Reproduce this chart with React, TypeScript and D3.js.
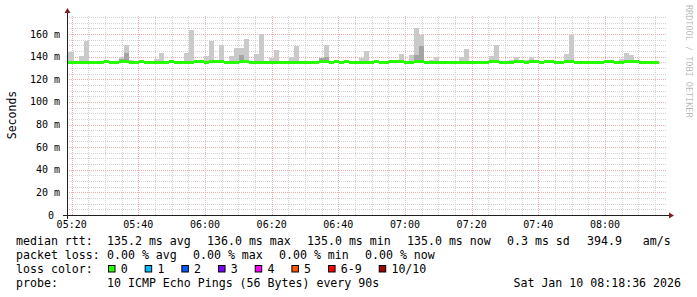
import React from "react";
import * as d3 from "d3";

// ---- data -------------------------------------------------------------
const START = new Date(2026, 0, 10, 5, 18, 36);
const END = new Date(2026, 0, 10, 8, 18, 36);
const FIRST_STEP = new Date(2026, 0, 10, 5, 17, 42);
const STEP_SECONDS = 90;

// median rtt per 90 s step (ms)
const medianRtt: number[] = [
  135.2, 135.2, 135.2, 135.2, 135.2, 135.2, 135.2, 135.2, 135.9, 135.0,
  135.0, 135.9, 136.0, 135.0, 135.2, 135.9, 135.2, 135.2, 135.2, 135.2,
  135.2, 135.9, 135.0, 135.0, 135.2, 135.2, 135.9, 135.9, 135.2, 135.9,
  135.9, 135.9, 135.0, 135.0, 135.2, 135.9, 135.9, 135.2, 135.2, 135.2,
  135.2, 135.2, 135.2, 135.2, 135.2, 135.2, 135.2, 135.2, 135.2, 135.2,
  135.2, 135.9, 135.9, 135.2, 135.9, 135.2, 135.9, 135.0, 135.0, 135.0,
  135.0, 135.0, 135.9, 135.0, 135.0, 135.9, 135.9, 135.9, 135.2, 135.2,
  135.9, 135.9, 135.2, 135.2, 135.2, 135.2, 135.2, 135.2, 135.2, 135.2,
  135.2, 135.2, 135.2, 135.2, 135.2, 135.9, 135.9, 135.0, 135.0, 135.2,
  135.9, 135.9, 135.2, 135.9, 135.9, 135.2, 135.9, 135.9, 135.0, 135.0,
  135.9, 135.9, 135.2, 135.2, 135.2, 135.2, 135.2, 135.2, 135.9, 135.9,
  135.0, 135.2, 135.9, 135.9, 135.9, 135.0, 135.0, 135.0, 135.0,
];

// highest ping per step (outer smoke top, ms)
const maxRtt: number[] = [
  144, 144, 136, 140.6, 153.8, 136, 136, 136, 136, 136,
  136, 139.5, 150, 137, 136, 136, 136, 136, 138, 143,
  136, 136, 136, 136, 143, 163.5, 136, 136, 140.6, 154,
  136, 150, 136, 140.6, 147.6, 147.6, 155.6, 136, 142, 160,
  136, 139, 146, 136, 136, 140, 149.5, 136, 136, 136,
  136, 139, 150, 136, 136, 136, 136, 136, 136, 139,
  145, 136, 136, 136, 136, 136, 136, 142, 136, 141.5,
  165, 159, 136, 137, 139.7, 136, 136, 136, 136, 139.7,
  147, 136, 136, 136, 136, 140.6, 150, 136, 136, 137,
  139.5, 136, 137, 139.5, 136, 136, 136, 136, 136, 136,
  142, 159, 136, 136, 136, 136, 136, 136, 136, 136,
  136, 138, 143, 141.5, 137, 136, 136, 136, 136,
];

// second highest ping per step (inner, darker smoke top), null = hidden
const innerRtt: (number | null)[] = [
  null, null, null, null, null, null, null, null, null, null,
  null, 137.5, 143, null, null, null, null, null, null, null,
  null, null, null, null, null, null, null, null, null, null,
  null, null, null, null, null, 141, null, null, null, null,
  null, null, null, null, null, null, null, null, null, null,
  null, 138.5, 140, null, null, null, null, null, null, null,
  null, null, null, null, null, null, null, null, null, null,
  141, 149.5, null, null, null, null, null, null, null, null,
  null, null, null, null, null, null, null, null, null, null,
  null, null, null, null, null, null, null, null, null, null,
  null, null, null, null, null, null, null, null, null, null,
  null, null, null, null, null, null, null, null, null,
];

const yTicks = [0, 20, 40, 60, 80, 100, 120, 140, 160];
const rttLegend = ["135.2 ms avg", "136.0 ms max", "135.0 ms min", "135.0 ms now", "0.3 ms sd", "394.9   am/s"];
const lossLegend = ["0.00 % avg", "0.00 % max", "0.00 % min", "0.00 % now"];
const lossLabels = ["0", "1", "2", "3", "4", "5", "6-9", "10/10"];
const lossColors = ["#26ff00", "#00b8ff", "#0059ff", "#7e00ff", "#ff00ff", "#ff5500", "#ff0000", "#a00000"];
const probeText = "10 ICMP Echo Pings (56 Bytes) every 90s";
const stampText = "Sat Jan 10 08:18:36 2026";

// ---- layout -----------------------------------------------------------
const W = 697;
const H = 297;
const X0 = 67;
const XS = 600;
const Y0 = 215;
const YS = 200;
const YMAX = 176.8;
const MONO = "'DejaVu Sans Mono', monospace";
const CH = 6.98; // legend char advance

export default function App() {
  const x = d3.scaleTime().domain([START, END]).range([X0, X0 + XS]);
  const y = d3.scaleLinear().domain([0, YMAX]).range([Y0, Y0 - YS]);

  const minorX = d3.timeMinute.every(5)!.range(START, END);
  const majorX = d3.timeMinute.every(20)!.range(START, END);
  const minorY = d3.range(0, YMAX, 5);
  const fmt = d3.timeFormat("%H:%M");

  const steps = medianRtt.map((m, i) => {
    const t0 = new Date(FIRST_STEP.getTime() + i * STEP_SECONDS * 1000);
    const t1 = new Date(t0.getTime() + STEP_SECONDS * 1000);
    const xa = Math.max(x(t0), X0);
    const xb = Math.min(x(t1), X0 + XS);
    return { i, m, xa, xb, max: maxRtt[i], inner: innerRtt[i] };
  });

  const px = (v: number) => Math.round(v) + 0.5;

  const rttX = [107, 207, 307, 407, 507, 587];
  const lossX = [107, 193, 279, 365];

  let bx = 108.5;
  const boxes = lossLabels.map((lab, i) => {
    const b = { lab, color: lossColors[i], x: bx };
    bx = bx + 12.5 + lab.length * CH + 17.2;
    return b;
  });

  return (
    <svg
      width={W}
      height={H}
      style={{ position: "absolute", left: 0, top: 0, background: "#fff" }}
      xmlns="http://www.w3.org/2000/svg"
    >
      <rect x={0} y={0} width={W} height={H} fill="#ffffff" />
      {/* minor grid */}
      <g stroke="#d2d2d2" strokeWidth={1} strokeDasharray="1,1">
        {minorY.map((v) => (
          <line key={"hy" + v} x1={X0} x2={X0 + XS} y1={px(y(v))} y2={px(y(v))} />
        ))}
        {minorX.map((t) => (
          <line key={"vx" + t.getTime()} x1={px(x(t))} x2={px(x(t))} y1={Y0} y2={Y0 - YS} />
        ))}
      </g>
      {/* major grid */}
      <g stroke="#efb0b0" strokeWidth={1} strokeDasharray="1,1">
        {yTicks.map((v) => (
          <line key={"my" + v} x1={X0} x2={X0 + XS} y1={px(y(v))} y2={px(y(v))} />
        ))}
        {majorX.map((t) => (
          <line key={"mx" + t.getTime()} x1={px(x(t))} x2={px(x(t))} y1={Y0} y2={Y0 - YS} />
        ))}
      </g>

      {/* smoke */}
      <g shapeRendering="crispEdges">
        {steps.map((s) => (
          <rect key={"s" + s.i} x={s.xa} width={s.xb - s.xa} y={y(s.max)} height={y(s.m) - y(s.max)} fill="#cacaca" />
        ))}
        {steps
          .filter((s) => s.inner !== null)
          .map((s) => (
            <rect key={"d" + s.i} x={s.xa} width={s.xb - s.xa} y={y(s.inner as number)} height={y(s.m) - y(s.inner as number)} fill="#a4a4a4" />
          ))}
        {/* median */}
        {steps.map((s) => (
          <rect key={"m" + s.i} x={s.xa} width={s.xb - s.xa} y={y(s.m) - 1.5} height={3} fill={lossColors[0]} />
        ))}
      </g>

      {/* axes */}
      <line x1={X0 - 4} x2={X0 + XS + 4} y1={Y0 + 0.5} y2={Y0 + 0.5} stroke="#1f1f1f" strokeWidth={1} />
      <line x1={X0 + 0.5} x2={X0 + 0.5} y1={Y0 + 4} y2={Y0 - YS - 4} stroke="#1f1f1f" strokeWidth={1} />
      <polygon
        points={`${X0 + XS + 2},${Y0 - 3 + 0.5} ${X0 + XS + 2},${Y0 + 3 + 0.5} ${X0 + XS + 7},${Y0 + 0.5}`}
        fill="#801f1f"
      />
      <polygon
        points={`${X0 - 3 + 0.5},${Y0 - YS - 2} ${X0 + 3 + 0.5},${Y0 - YS - 2} ${X0 + 0.5},${Y0 - YS - 7}`}
        fill="#801f1f"
      />

      {/* tick labels */}
      <g fontFamily={MONO} fontSize={10} fill="#000">
        {yTicks.map((v) => (
          <text key={"yl" + v} x={v === 0 ? 54 : 60} y={y(v) + 3.5} textAnchor="end">
            {v === 0 ? "0" : `${v} m`}
          </text>
        ))}
        {majorX.map((t) => (
          <text key={"xl" + t.getTime()} x={x(t)} y={227.5} textAnchor="middle">
            {fmt(t)}
          </text>
        ))}
      </g>

      {/* vertical unit label */}
      <text
        x={0}
        y={0}
        transform={`translate(15.5, 115) rotate(-90)`}
        fontFamily={MONO}
        fontSize={11.5}
        textAnchor="middle"
        fill="#000"
      >
        Seconds
      </text>

      {/* watermark */}
      <text
        x={0}
        y={0}
        transform={`translate(685.5, 5) rotate(90)`}
        fontFamily={MONO}
        fontSize={8.5}
        fill="#000"
        fillOpacity={0.3}
      >
        RRDTOOL / TOBI OETIKER
      </text>

      {/* legend */}
      <g fontFamily={MONO} fontSize={11.6} fill="#000" style={{ whiteSpace: "pre" }}>
        <text x={16} y={244.5}>median rtt:</text>
        {rttLegend.map((s, i) => (
          <text key={"r" + i} x={rttX[i]} y={244.5} xmlSpace="preserve">
            {s}
          </text>
        ))}
        <text x={16} y={258.5}>packet loss:</text>
        {lossLegend.map((s, i) => (
          <text key={"l" + i} x={lossX[i]} y={258.5} xmlSpace="preserve">
            {s}
          </text>
        ))}
        <text x={16} y={272.6}>loss color:</text>
        {boxes.map((b) => (
          <g key={"b" + b.lab}>
            <rect x={b.x} y={265.5} width={6.5} height={6.5} fill={b.color} stroke="#000" strokeWidth={1} />
            <text x={b.x + 12.2} y={272.6}>
              {b.lab}
            </text>
          </g>
        ))}
        <text x={16} y={286.6}>probe:</text>
        <text x={107} y={286.6}>{probeText}</text>
        <text x={681} y={286.6} textAnchor="end">
          {stampText}
        </text>
      </g>
    </svg>
  );
}
